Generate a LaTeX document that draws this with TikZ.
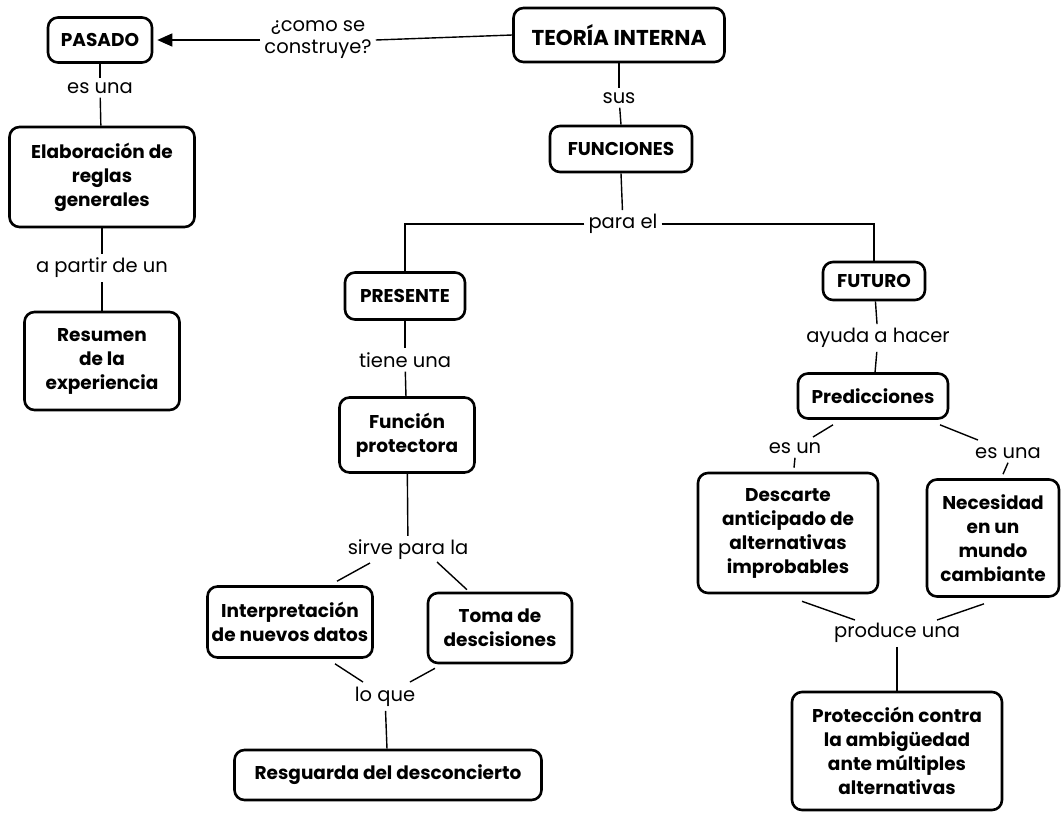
\documentclass[tikz,border=0pt]{standalone}
\usepackage{fontspec}
\setmainfont{Poppins}
\usetikzlibrary{arrows.meta,calc}
\begin{document}
\begin{tikzpicture}[x=1pt,y=-1pt,
  concept/.style={draw, line width=2.6pt, rounded corners=10pt, align=center,
    inner sep=2pt, font=\fontsize{18.5}{24}\selectfont\bfseries},
  link/.style={align=center, inner sep=4pt, font=\fontsize{19.5}{22}\selectfont},
  conn/.style={line width=1.4pt}]
\useasboundingbox (0,0) rectangle (1062,812);

% concepts
\node[concept, minimum width=104, minimum height=45] (pasado) at (100,40) {PASADO};
\node[concept, minimum width=211, minimum height=54, font=\fontsize{21.5}{24}\selectfont\bfseries] (teoria) at (619,35) {TEORÍA INTERNA};
\node[concept, minimum width=142, minimum height=46] (funciones) at (621,149) {FUNCIONES};
\node[concept, minimum width=185, minimum height=100] (elab) at (102,177) {Elaboración de\\reglas\\generales};
\node[concept, minimum width=155, minimum height=98] (resumen) at (102,361) {Resumen\\de la\\experiencia};
\node[concept, minimum width=120, minimum height=47] (presente) at (405,296) {PRESENTE};
\node[concept, minimum width=135, minimum height=75] (funcion) at (407,435) {Función\\protectora};
\node[concept, minimum width=165, minimum height=71] (interp) at (290,622) {Interpretación\\de nuevos datos};
\node[concept, minimum width=144, minimum height=70] (toma) at (500,628) {Toma de\\descisiones};
\node[concept, minimum width=307, minimum height=50] (resguarda) at (388,775) {Resguarda del desconcierto};
\node[concept, minimum width=102, minimum height=38] (futuro) at (874,281) {FUTURO};
\node[concept, minimum width=150, minimum height=45] (predic) at (873,396) {Predicciones};
\node[concept, minimum width=180, minimum height=120] (descarte) at (788,533) {Descarte\\anticipado de\\alternativas\\improbables};
\node[concept, minimum width=132, minimum height=117] (necesidad) at (993,538) {Necesidad\\en un\\mundo\\cambiante};
\node[concept, minimum width=210, minimum height=118] (proteccion) at (897,751) {Protección contra\\la ambigüedad\\ante múltiples\\alternativas};

% linking phrases
\node[link] (como) at (318,40) {¿como se\\construye?};
\node[link] (sus) at (619,98) {sus};
\node[link] (parael) at (623,224) {para el};
\node[link] (esuna1) at (100,88) {es una};
\node[link] (apartir) at (102,268) {a partir de un};
\node[link] (tiene) at (405,360) {tiene una};
\node[link] (sirve) at (408,550) {sirve para la};
\node[link] (loque) at (385,697) {lo que};
\node[link] (ayuda) at (878,338) {ayuda a hacer};
\node[link] (esun) at (795,448) {es un};
\node[link] (esuna2) at (1008,453) {es una};
\node[link] (produce) at (897,633) {produce una};

% connectors
\draw[conn] (teoria.west) -- (como.east);
\draw[conn, -{Triangle[length=15pt,width=13pt]}, shorten >=4pt] (como.west) -- (pasado.east);
\draw[conn] (teoria.south) -- (sus);
\draw[conn] (sus) -- (funciones.north);
\draw[conn] (funciones.south) -- (parael);
\draw[conn] (parael.west) -| (presente.north);
\draw[conn] (parael.east) -| (futuro.north);
\draw[conn] (pasado) -- (esuna1);
\draw[conn] (esuna1) -- (elab);
\draw[conn] (elab) -- (apartir);
\draw[conn] (apartir) -- (resumen);
\draw[conn] (presente) -- (tiene);
\draw[conn] (tiene) -- (funcion);
\draw[conn] (funcion) -- (sirve);
\draw[conn] ($(sirve)+(-38,13)$) -- ($(interp.north)+(47,-4)$);
\draw[conn] ($(sirve)+(29,12)$) -- ($(toma.north)+(-33,-2)$);
\draw[conn] ($(interp.south)+(45,5)$) -- ($(loque)+(-22,-15)$);
\draw[conn] ($(toma.south)+(-65,4)$) -- ($(loque)+(25,-15)$);
\draw[conn] (loque) -- (resguarda);
\draw[conn] (futuro) -- (ayuda);
\draw[conn] (ayuda) -- (predic);
\draw[conn] ($(predic.south)+(-40,5)$) -- ($(esun)+(18,-11)$);
\draw[conn] (esun.south) -- ($(descarte.north)+(6,-4)$);
\draw[conn] ($(predic.south)+(67,5)$) -- ($(esuna2)+(-30,-13)$);
\draw[conn] (esuna2.south) -- ($(necesidad.north)+(10,-4)$);
\draw[conn] ($(descarte.south)+(14,7)$) -- ($(produce)+(-42,-13)$);
\draw[conn] ($(necesidad.south)+(-9,6)$) -- ($(produce)+(40,-13)$);
\draw[conn] (produce) -- (proteccion);
\end{tikzpicture}
\end{document}
